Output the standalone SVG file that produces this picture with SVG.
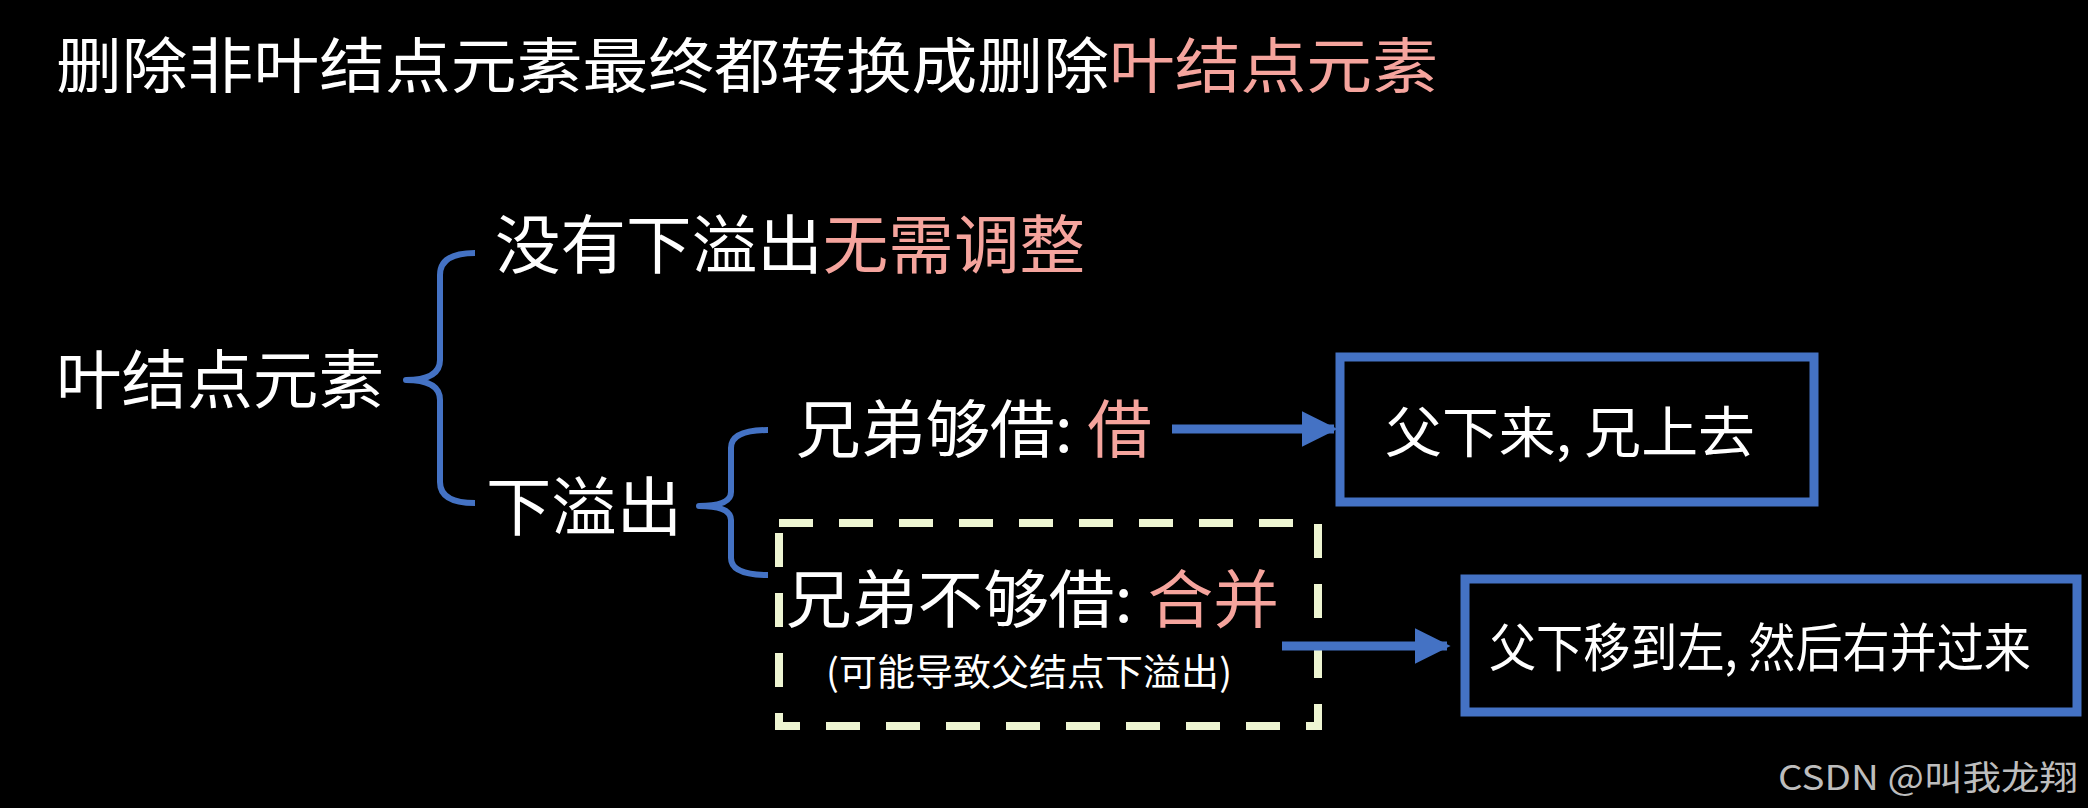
<svg xmlns="http://www.w3.org/2000/svg" width="2088" height="808" viewBox="0 0 2088 808">
<defs>
<style>
text{font-family:"Noto Sans CJK SC","Liberation Sans",sans-serif;fill:#fff}
.p{fill:#f5a49d}
.br{fill:none;stroke:#4472c4;stroke-width:6;stroke-linejoin:round}
.ar{stroke:#4472c4;stroke-width:9;fill:none}
.box{fill:none;stroke:#4472c4;stroke-width:9}
</style>
<marker id="ah" viewBox="0 0 10 10" refX="9" refY="5" markerWidth="4" markerHeight="4" orient="auto" markerUnits="strokeWidth"><path d="M0,0L10,5L0,10z" fill="#4472c4"/></marker>
</defs>
<rect width="2088" height="808" fill="#000"/>
<g id="title"><text x="56" y="88" font-size="60" textLength="1382" lengthAdjust="spacingAndGlyphs">删除非叶结点元素最终都转换成删除<tspan class="p">叶结点元素</tspan></text></g>
<g id="leaf"><text x="56" y="403" font-size="64" textLength="328" lengthAdjust="spacingAndGlyphs">叶结点元素</text></g>
<g id="noover"><text x="495" y="268" font-size="64" textLength="590" lengthAdjust="spacingAndGlyphs">没有下溢出<tspan class="p">无需调整</tspan></text></g>
<g id="over"><text x="486" y="530" font-size="64" textLength="196" lengthAdjust="spacingAndGlyphs">下溢出</text></g>
<g id="borrow"><text x="796" y="452" font-size="63" textLength="356" lengthAdjust="spacingAndGlyphs">兄弟够借: <tspan class="p">借</tspan></text></g>
<g id="merge">
<rect x="779" y="523" width="539" height="203" fill="none" stroke="#eef5d2" stroke-width="8" stroke-dasharray="34 26"/>
<text x="786" y="622" font-size="63" textLength="493" lengthAdjust="spacingAndGlyphs">兄弟不够借: <tspan class="p">合并</tspan></text>
<text x="826" y="686" font-size="37" textLength="406" lengthAdjust="spacingAndGlyphs">(可能导致父结点下溢出)</text>
</g>
<g id="box1"><rect x="1340" y="357" width="474" height="145" class="box"/><text x="1385" y="452" font-size="55" textLength="370" lengthAdjust="spacingAndGlyphs">父下来, 兄上去</text></g>
<g id="box2"><rect x="1465" y="579" width="612" height="133" class="box"/><text x="1489" y="667" font-size="52" textLength="542" lengthAdjust="spacingAndGlyphs">父下移到左, 然后右并过来</text></g>
<g id="connectors">
<path class="br" d="M475,253 Q440,253 440,275 L440,360 Q440,380 406,380 Q440,380 440,400 L440,482 Q440,503 475,503"/>
<path class="br" d="M768,430 Q731,430 731,448 L731,492 Q731,506 699,506 Q731,506 731,520 L731,558 Q731,575 768,575"/>
<line class="ar" x1="1172" y1="429" x2="1334" y2="429" marker-end="url(#ah)"/>
<line class="ar" x1="1282" y1="646" x2="1447" y2="646" marker-end="url(#ah)"/>
</g>
<text x="1778" y="790" font-size="34" textLength="300" lengthAdjust="spacingAndGlyphs" style="fill:#bdbdbd">CSDN @叫我龙翔</text>
</svg>
